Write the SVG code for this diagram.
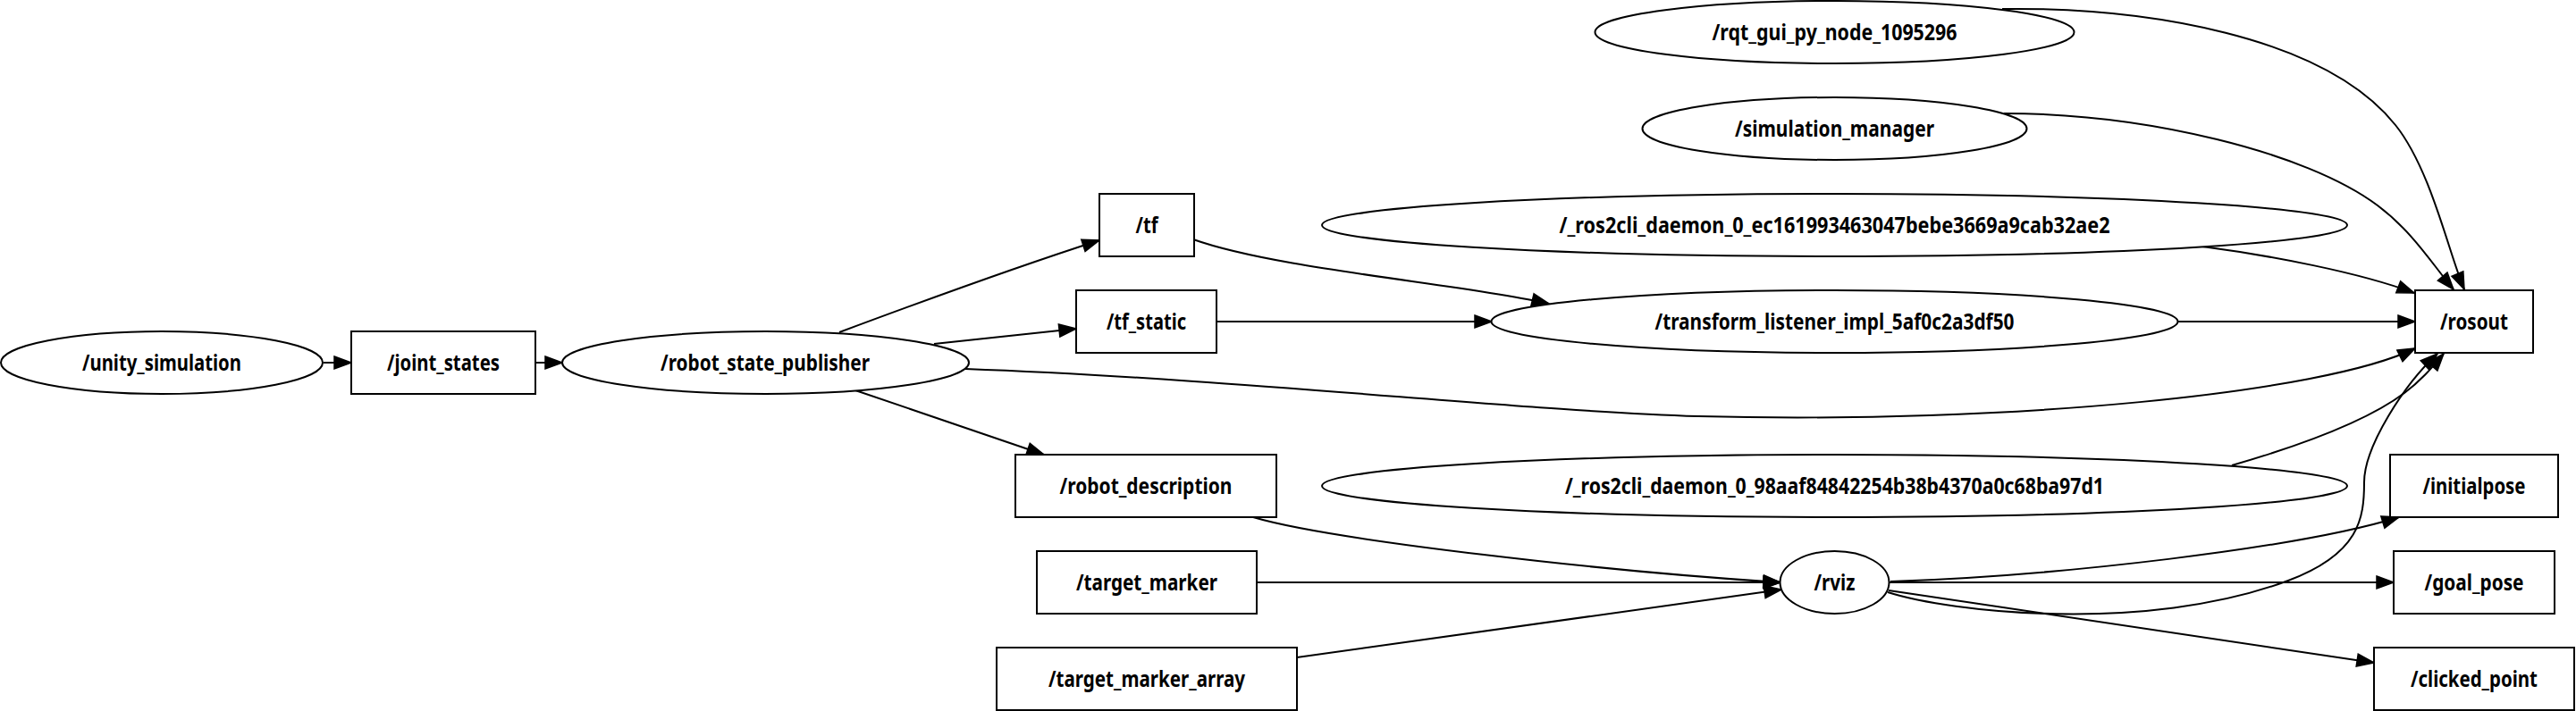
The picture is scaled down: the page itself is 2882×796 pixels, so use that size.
<svg xmlns="http://www.w3.org/2000/svg" width="2882" height="796" viewBox="0 0 2882 796">
<style>
.n ellipse, .n rect { fill: #ffffff; stroke: #000000; stroke-width: 2; }
.n text { font-family: "Noto Sans", "Open Sans", "DejaVu Sans", sans-serif; font-weight: bold; font-size: 25px; text-anchor: middle; fill: #000000; }
#edges path { fill: none; stroke: #000000; stroke-width: 2; marker-end: url(#ah); }
</style>
<defs>
<marker id="ah" markerUnits="userSpaceOnUse" markerWidth="22" markerHeight="16" refX="19" refY="7" orient="auto" overflow="visible">
<path d="M0,0 L19,7 L0,14 z" fill="#000000" stroke="#000000" stroke-width="1.5" stroke-linejoin="miter"/>
</marker>
</defs>
<rect x="0" y="0" width="2882" height="796" fill="#ffffff"/>
<g id="edges">
<path id="e_unity_joint" d="M362,406 L393,406"/>
<path id="e_joint_rsp" d="M599,406 L629,406"/>
<path id="e_rsp_tf" d="M939,372 C1030,338 1140,298 1230,269"/>
<path id="e_rsp_tfstatic" d="M1045,385 L1204,368"/>
<path id="e_rsp_rosout" d="M1080,413 C1400,425 1700,460 1900,466 C2250,475 2600,440 2702,390"/>
<path id="e_rsp_robotdesc" d="M957,437 L1168,509"/>
<path id="e_tf_transform" d="M1335,268 C1430,302 1640,318 1733,340"/>
<path id="e_tfstatic_transform" d="M1361,360 L1669,360"/>
<path id="e_transform_rosout" d="M2437,360 L2702,360"/>
<path id="e_ros2cli_ec_rosout" d="M2464,276 C2540,286 2640,305 2701,328"/>
<path id="e_rqt_rosout" d="M2240,10 C2400,8 2600,40 2680,140 C2720,190 2740,285 2757,324"/>
<path id="e_sim_rosout" d="M2242,127 C2400,127 2580,170 2660,230 C2700,260 2722,297 2745,324"/>
<path id="e_ros2cli_98_rosout" d="M2497,521 C2580,497 2650,470 2690,440 C2710,425 2722,410 2734,396"/>
<path id="e_rviz_rosout" d="M2112,663 C2180,685 2400,710 2560,650 C2640,620 2645,580 2645,540 C2645,500 2690,430 2727,396"/>
<path id="e_rviz_initialpose" d="M2115,651 C2300,645 2570,614 2684,579"/>
<path id="e_rviz_goalpose" d="M2114,652 L2678,652"/>
<path id="e_rviz_clicked" d="M2113,661 L2656,742"/>
<path id="e_robotdesc_rviz" d="M1402,579 C1490,605 1800,640 1992,652"/>
<path id="e_targetmarker_rviz" d="M1406,652 L1992,652"/>
<path id="e_targetmarkerarray_rviz" d="M1451,736 L1993,660"/>
</g>
<g id="unity_simulation" class="n"><ellipse cx="181" cy="406" rx="180" ry="35"/><text x="181" y="415" textLength="178" lengthAdjust="spacingAndGlyphs">/unity_simulation</text></g>
<g id="joint_states" class="n"><rect x="393" y="371" width="206" height="70"/><text x="496" y="415" textLength="126" lengthAdjust="spacingAndGlyphs">/joint_states</text></g>
<g id="robot_state_publisher" class="n"><ellipse cx="856.5" cy="406" rx="227.5" ry="35"/><text x="856" y="415" textLength="234" lengthAdjust="spacingAndGlyphs">/robot_state_publisher</text></g>
<g id="tf" class="n"><rect x="1230" y="217" width="106" height="70"/><text x="1283" y="261" textLength="25" lengthAdjust="spacingAndGlyphs">/tf</text></g>
<g id="tf_static" class="n"><rect x="1204" y="325" width="157" height="70"/><text x="1282.5" y="369" textLength="89" lengthAdjust="spacingAndGlyphs">/tf_static</text></g>
<g id="robot_description" class="n"><rect x="1136" y="509" width="292" height="70"/><text x="1282" y="553" textLength="193" lengthAdjust="spacingAndGlyphs">/robot_description</text></g>
<g id="target_marker" class="n"><rect x="1160" y="617" width="246" height="70"/><text x="1283" y="661" textLength="158" lengthAdjust="spacingAndGlyphs">/target_marker</text></g>
<g id="target_marker_array" class="n"><rect x="1115" y="725" width="336" height="70"/><text x="1283" y="769" textLength="220" lengthAdjust="spacingAndGlyphs">/target_marker_array</text></g>
<g id="rqt_gui_py_node_1095296" class="n"><ellipse cx="2052.5" cy="36" rx="268" ry="35"/><text x="2052.5" y="45" textLength="274" lengthAdjust="spacingAndGlyphs">/rqt_gui_py_node_1095296</text></g>
<g id="simulation_manager" class="n"><ellipse cx="2052.5" cy="144" rx="215" ry="35"/><text x="2052.5" y="153" textLength="223" lengthAdjust="spacingAndGlyphs">/simulation_manager</text></g>
<g id="ros2cli_daemon_ec" class="n"><ellipse cx="2052.5" cy="252" rx="573.5" ry="35"/><text x="2052.5" y="261" textLength="616" lengthAdjust="spacingAndGlyphs">/_ros2cli_daemon_0_ec161993463047bebe3669a9cab32ae2</text></g>
<g id="transform_listener_impl" class="n"><ellipse cx="2052.5" cy="360" rx="384" ry="35"/><text x="2052.5" y="369" textLength="402" lengthAdjust="spacingAndGlyphs">/transform_listener_impl_5af0c2a3df50</text></g>
<g id="ros2cli_daemon_98" class="n"><ellipse cx="2052.5" cy="544" rx="573.5" ry="35"/><text x="2052.5" y="553" textLength="603" lengthAdjust="spacingAndGlyphs">/_ros2cli_daemon_0_98aaf84842254b38b4370a0c68ba97d1</text></g>
<g id="rviz" class="n"><ellipse cx="2052.5" cy="652" rx="61" ry="35"/><text x="2052.5" y="661" textLength="46" lengthAdjust="spacingAndGlyphs">/rviz</text></g>
<g id="rosout" class="n"><rect x="2702" y="325" width="132" height="70"/><text x="2768" y="369" textLength="76" lengthAdjust="spacingAndGlyphs">/rosout</text></g>
<g id="initialpose" class="n"><rect x="2674" y="509" width="188" height="70"/><text x="2768" y="553" textLength="115" lengthAdjust="spacingAndGlyphs">/initialpose</text></g>
<g id="goal_pose" class="n"><rect x="2678" y="617" width="180" height="70"/><text x="2768" y="661" textLength="111" lengthAdjust="spacingAndGlyphs">/goal_pose</text></g>
<g id="clicked_point" class="n"><rect x="2656" y="725" width="224" height="70"/><text x="2768" y="769" textLength="142" lengthAdjust="spacingAndGlyphs">/clicked_point</text></g>
</svg>
